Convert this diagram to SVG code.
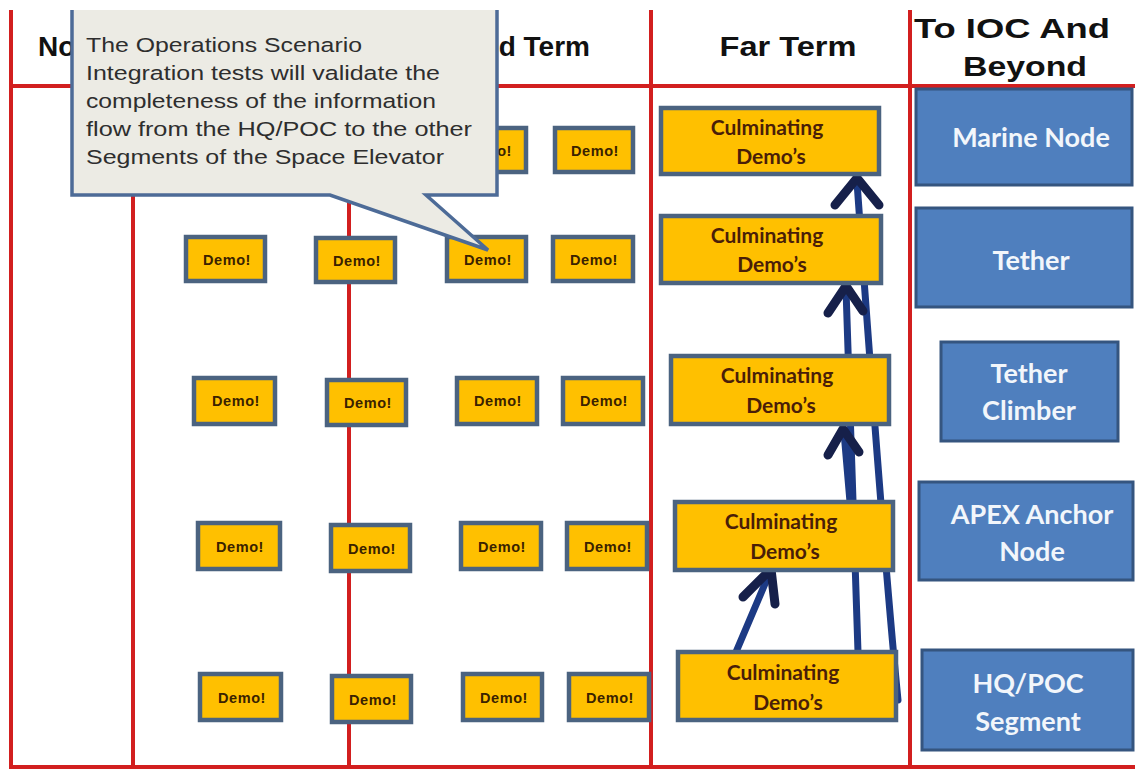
<svg xmlns="http://www.w3.org/2000/svg" width="1135" height="770" viewBox="0 0 1135 770">
  <defs>
    <style>
      .grid { stroke: #D21F1F; stroke-width: 4; fill: none; }
      .hdr { font-family: "Liberation Sans", Arial, sans-serif; font-weight: bold; font-size: 28px; fill: #111; }
      .demo rect { fill: #FFC000; stroke: #4B6380; stroke-width: 4.5; }
      .demo text { font-family: "Liberation Sans", Arial, sans-serif; font-weight: bold; font-size: 14.5px; fill: #3A2200; text-anchor: middle; letter-spacing: 0.6px; }
      .culm rect { fill: #FFC000; stroke: #4B6380; stroke-width: 4.5; }
      .culm text { font-family: Lato, "Open Sans", sans-serif; font-weight: bold; font-size: 21px; fill: #4A1E08; text-anchor: middle; }
      .seg rect { fill: #4F7FBE; stroke: #35557F; stroke-width: 3; }
      .seg text { font-family: Lato, "Open Sans", sans-serif; font-weight: bold; font-size: 27px; fill: #F2F6FB; text-anchor: middle; }
      .shaft { stroke: #1C3A84; stroke-width: 7; fill: none; stroke-linecap: round; }
      .head { stroke: #16204A; stroke-width: 9; fill: none; stroke-linecap: round; stroke-linejoin: round; }
      .note { font-family: "Liberation Sans", Arial, sans-serif; font-size: 20.5px; fill: #2E2E2E; }
    </style>
  </defs>

  <rect x="0" y="0" width="1135" height="770" fill="#FFFFFF"/>

  <!-- column grid -->
  <g id="grid">
    <line class="grid" x1="11" y1="10" x2="11" y2="769"/>
    <line class="grid" x1="133" y1="86" x2="133" y2="767"/>
    <line class="grid" x1="349" y1="86" x2="349" y2="767"/>
    <line class="grid" x1="651" y1="10" x2="651" y2="767"/>
    <line class="grid" x1="910" y1="10" x2="910" y2="767"/>
    <line class="grid" x1="9" y1="86" x2="1135" y2="86"/>
    <line class="grid" x1="9" y1="767" x2="1135" y2="767"/>
  </g>

  <!-- column headings -->
  <g id="headings">
    <text class="hdr" x="38" y="56">No</text>
    <text class="hdr" x="590" y="56" text-anchor="end">Mid Term</text>
    <text class="hdr" x="788" y="56" text-anchor="middle" textLength="137" lengthAdjust="spacingAndGlyphs">Far Term</text>
    <text class="hdr" x="1012" y="38" text-anchor="middle" textLength="196" lengthAdjust="spacingAndGlyphs">To IOC And</text>
    <text class="hdr" x="1025" y="76" text-anchor="middle" textLength="124" lengthAdjust="spacingAndGlyphs">Beyond</text>
  </g>

  <!-- connectors -->
  <g id="connectors">
    <!-- long run to the top demo -->
    <path class="shaft" d="M898,700 Q884,560 857,182"/>
    <polyline class="head" points="835,205 857,178 879,205"/>
    <!-- long run to the second demo -->
    <line class="shaft" x1="858" y1="652" x2="846" y2="289"/>
    <polyline class="head" points="828,313 846,286 863,311"/>
    <!-- fourth to third -->
    <line class="shaft" x1="850" y1="502" x2="844" y2="432"/>
    <polyline class="head" points="828,455 843,429 859,452"/>
    <!-- fifth to fourth -->
    <line class="shaft" x1="736" y1="652" x2="770" y2="572"/>
    <polyline class="head" points="743,597 771,569 775,604"/>
  </g>

  <!-- demo tiles -->
  <g id="demo-r1-c3" class="demo"><rect x="448" y="128" width="78" height="44"/><text x="488" y="156">Demo!</text></g>
  <g id="demo-r1-c4" class="demo"><rect x="555" y="128" width="78" height="44"/><text x="595" y="156">Demo!</text></g>

  <g id="demo-r2-c1" class="demo"><rect x="186" y="237" width="79" height="44"/><text x="227" y="265">Demo!</text></g>
  <g id="demo-r2-c2" class="demo"><rect x="316" y="238" width="79" height="44"/><text x="357" y="266">Demo!</text></g>
  <g id="demo-r2-c3" class="demo"><rect x="447" y="237" width="79" height="44"/><text x="488" y="265">Demo!</text></g>
  <g id="demo-r2-c4" class="demo"><rect x="553" y="237" width="80" height="44"/><text x="594" y="265">Demo!</text></g>

  <g id="demo-r3-c1" class="demo"><rect x="194" y="378" width="81" height="46"/><text x="236" y="406">Demo!</text></g>
  <g id="demo-r3-c2" class="demo"><rect x="327" y="380" width="79" height="45"/><text x="368" y="408">Demo!</text></g>
  <g id="demo-r3-c3" class="demo"><rect x="457" y="378" width="80" height="46"/><text x="498" y="406">Demo!</text></g>
  <g id="demo-r3-c4" class="demo"><rect x="563" y="378" width="80" height="46"/><text x="604" y="406">Demo!</text></g>

  <g id="demo-r4-c1" class="demo"><rect x="198" y="523" width="82" height="46"/><text x="240" y="552">Demo!</text></g>
  <g id="demo-r4-c2" class="demo"><rect x="331" y="525" width="79" height="46"/><text x="372" y="554">Demo!</text></g>
  <g id="demo-r4-c3" class="demo"><rect x="461" y="523" width="80" height="46"/><text x="502" y="552">Demo!</text></g>
  <g id="demo-r4-c4" class="demo"><rect x="567" y="523" width="80" height="46"/><text x="608" y="552">Demo!</text></g>

  <g id="demo-r5-c1" class="demo"><rect x="200" y="674" width="81" height="46"/><text x="242" y="703">Demo!</text></g>
  <g id="demo-r5-c2" class="demo"><rect x="332" y="676" width="79" height="46"/><text x="373" y="705">Demo!</text></g>
  <g id="demo-r5-c3" class="demo"><rect x="463" y="674" width="79" height="46"/><text x="504" y="703">Demo!</text></g>
  <g id="demo-r5-c4" class="demo"><rect x="569" y="674" width="80" height="46"/><text x="610" y="703">Demo!</text></g>

  <!-- culminating demos -->
  <g id="culm-1" class="culm"><rect x="661" y="108" width="218" height="66"/><text x="767" y="135">Culminating</text><text x="771" y="164">Demo’s</text></g>
  <g id="culm-2" class="culm"><rect x="661" y="216" width="220" height="67"/><text x="767" y="243">Culminating</text><text x="772" y="272">Demo’s</text></g>
  <g id="culm-3" class="culm"><rect x="671" y="356" width="218" height="68"/><text x="777" y="383">Culminating</text><text x="781" y="413">Demo’s</text></g>
  <g id="culm-4" class="culm"><rect x="675" y="502" width="218" height="68"/><text x="781" y="529">Culminating</text><text x="785" y="559">Demo’s</text></g>
  <g id="culm-5" class="culm"><rect x="678" y="652" width="218" height="68"/><text x="783" y="680">Culminating</text><text x="788" y="710">Demo’s</text></g>

  <!-- elevator segments -->
  <g id="seg-marine" class="seg"><rect x="916" y="89" width="216" height="96"/><text x="1031" y="147">Marine Node</text></g>
  <g id="seg-tether" class="seg"><rect x="916" y="208" width="216" height="99"/><text x="1031" y="270">Tether</text></g>
  <g id="seg-climber" class="seg"><rect x="941" y="342" width="177" height="99"/><text x="1029" y="383">Tether</text><text x="1029" y="420">Climber</text></g>
  <g id="seg-apex" class="seg"><rect x="919" y="482" width="214" height="98"/><text x="1032" y="524">APEX Anchor</text><text x="1032" y="561">Node</text></g>
  <g id="seg-hq" class="seg"><rect x="922" y="650" width="211" height="100"/><text x="1028" y="693">HQ/POC</text><text x="1028" y="731">Segment</text></g>

  <!-- callout -->
  <g id="callout">
    <path d="M72,10 L72,195 L330,195 L488,250 L426,195 L497,195 L497,10 Z" fill="#ECEBE4"/>
    <path d="M72,10 L72,195 L330,195 L488,250 L426,195 L497,195 L497,10" fill="none" stroke="#4D6B97" stroke-width="3.5" stroke-linejoin="miter"/>
    <text class="note" x="86" y="52" textLength="276" lengthAdjust="spacingAndGlyphs">The Operations Scenario</text>
    <text class="note" x="86" y="80" textLength="354" lengthAdjust="spacingAndGlyphs">Integration tests will validate the</text>
    <text class="note" x="86" y="108" textLength="350" lengthAdjust="spacingAndGlyphs">completeness of the information</text>
    <text class="note" x="86" y="136" textLength="386" lengthAdjust="spacingAndGlyphs">flow from  the HQ/POC to the other</text>
    <text class="note" x="86" y="164" textLength="358" lengthAdjust="spacingAndGlyphs">Segments of the Space Elevator</text>
  </g>
</svg>
